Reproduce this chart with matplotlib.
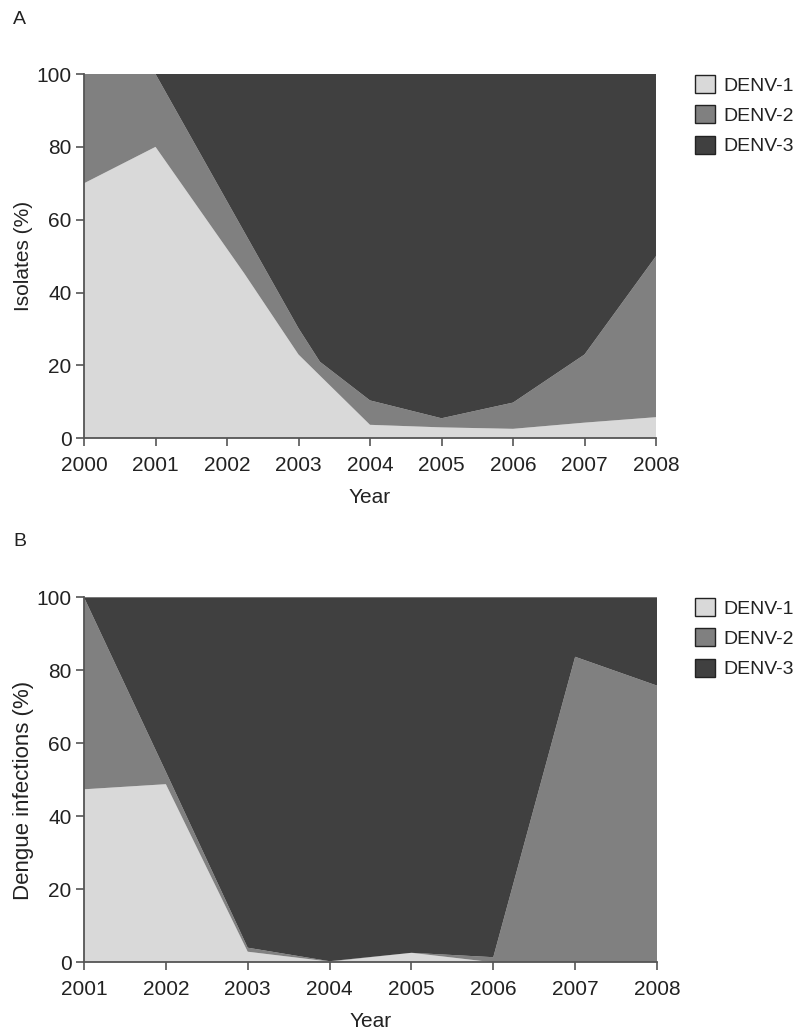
import matplotlib
matplotlib.use('Agg')
import matplotlib.pyplot as plt
from matplotlib.patches import Patch

plt.rcParams['font.family'] = ['Liberation Sans', 'DejaVu Sans']

# panel A - isolates
years_a = [2000, 2001, 2002.24, 2003, 2003.3, 2004, 2005, 2006, 2007, 2008]
denv1_a = [70, 80, 45.3, 23, 17.2, 3.7, 3.0, 2.6, 4.3, 5.8]
denv2_a = [30, 20, 11.4, 7.2, 3.8, 6.7, 2.5, 7.2, 18.7, 44.2]
denv3_a = [0, 0, 43.3, 69.8, 79, 89.6, 94.5, 90.2, 77, 50]

# panel B - dengue infections
years_b = [2001, 2002, 2003, 2004, 2005, 2006, 2007, 2008]
denv1_b = [47.4, 48.8, 2.9, 0.2, 2.6, 0, 0, 0]
denv2_b = [52.6, 3.4, 1.1, 0.1, 0, 1.4, 83.7, 75.8]
denv3_b = [0, 47.8, 96, 99.7, 97.4, 98.6, 16.3, 24.2]

labels = ['DENV-1', 'DENV-2', 'DENV-3']
colors = ['#d9d9d9', '#808080', '#404040']

W, H = 803, 1033
fig = plt.figure(figsize=(W / 100, H / 100), dpi=100)


def panel(rect, x, ys, xticks, ylabel, ylab_size, ylab_y, letter, letter_y, leg_top):
    ax = fig.add_axes(rect)
    ax.stackplot(x, *ys, colors=colors, linewidth=0)
    ax.set_xlim(xticks[0], xticks[-1])
    ax.set_ylim(0, 100)
    ax.set_xticks(xticks)
    ax.set_yticks(range(0, 101, 20))
    for s in ['top', 'right']:
        ax.spines[s].set_visible(False)
    for s in ['left', 'bottom']:
        ax.spines[s].set_color('#555555')
        ax.spines[s].set_linewidth(1.3)
    ax.tick_params(direction='out', length=6, width=1.2, color='#555555',
                   labelsize=15, labelcolor='#222222')
    ax.tick_params(axis='x', pad=7)
    ax.tick_params(axis='y', pad=3)
    ax.set_xlabel('Year', fontsize=15, color='#222222', labelpad=9)
    ax.set_ylabel(ylabel, fontsize=ylab_size, color='#222222', va='center')
    ax.yaxis.set_label_coords(-0.105, ylab_y)
    fig.text(13 / W, 1 - letter_y / H, letter, fontsize=14, color='#222222',
             ha='left', va='center')
    handles = [Patch(facecolor=c, edgecolor='#222222', linewidth=1.0) for c in colors]
    fig.legend(handles, labels, loc='upper left',
               bbox_to_anchor=(695 / W, 1 - leg_top / H), bbox_transform=fig.transFigure,
               frameon=False, fontsize=14, borderpad=0, borderaxespad=0,
               handlelength=1.05, handleheight=1.05, handletextpad=0.4,
               labelspacing=0.55, labelcolor='#222222')
    return ax


panel([84 / W, 1 - 438.3 / H, 572 / W, 364.3 / H], years_a,
      [denv1_a, denv2_a, denv3_a], list(range(2000, 2009)),
      'Isolates (%)', 15, 0.5, 'A', 20, 75)
panel([84 / W, 1 - 962.3 / H, 573 / W, 365 / H], years_b,
      [denv1_b, denv2_b, denv3_b], list(range(2001, 2009)),
      'Dengue infections (%)', 16, 0.47, 'B', 541, 598)

fig.savefig('out.png', dpi=100)
